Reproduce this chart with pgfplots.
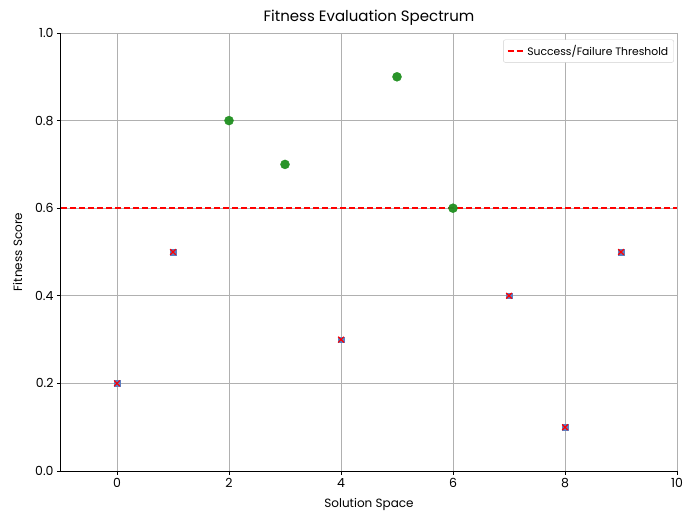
\documentclass[border=0pt]{standalone}
\usepackage{pgfplots}
\pgfplotsset{compat=1.18}
\usepackage{fontspec}
\setmainfont{Poppins}
\definecolor{succ}{HTML}{1F8F1F}
\definecolor{failsq}{HTML}{5B7FC4}
\definecolor{gridc}{HTML}{B0B0B0}
\begin{document}
\begin{tikzpicture}[x=1bp,y=1bp]
\useasboundingbox (-61bp,-54bp) rectangle (639bp,471bp);
\begin{axis}[
  at={(0,0)}, anchor=south west,
  scale only axis,
  width=616bp, height=438bp,
  xmin=-1, xmax=10, ymin=0, ymax=1,
  xtick={0,2,4,6,8,10},
  ytick={0,0.2,0.4,0.6,0.8,1.0},
  yticklabel style={/pgf/number format/.cd,fixed,fixed zerofill,precision=1},
  /pgf/number format/assume math mode=true,
  ticklabel style={font=\fontsize{12.5bp}{14bp}\selectfont},
  tick align=outside,
  tick pos=left,
  major tick length=4bp,
  axis x line*=bottom, axis y line*=left,
  axis line style={black, line width=1bp, -},
  tick style={black, line width=0.8bp},
  grid=major,
  major grid style={gridc, line width=0.9bp},
  title={Fitness Evaluation Spectrum},
  title style={font=\fontsize{15bp}{17bp}\selectfont, yshift=-2bp},
  xlabel={Solution Space},
  ylabel={Fitness Score},
  label style={font=\fontsize{12bp}{14bp}\selectfont},
  xlabel style={yshift=-4bp},
  ylabel style={yshift=6bp},
  legend style={at={(0.995,0.985)}, anchor=north east, font=\fontsize{10.8bp}{13bp}\selectfont, draw=gridc!60, rounded corners=2bp, inner sep=3.5bp},
  legend cell align=left,
  clip=false,
]
\addplot[red, dashed, line width=1.4bp, dash pattern=on 6bp off 3bp] coordinates {(-1,0.6) (10,0.6)};
\addlegendentry{Success/Failure Threshold}
\addplot[only marks, mark=*, mark size=4.5bp, mark options={draw=succ, fill=succ, fill opacity=0.95}, forget plot] coordinates {
(2,0.8) (3,0.7) (5,0.9) (6,0.6)};
\addplot[only marks, mark=square*, mark size=2.8bp, mark options={draw=failsq, fill=failsq}, forget plot] coordinates {
(0,0.2) (1,0.5) (4,0.3) (7,0.4) (8,0.1) (9,0.5)};
\addplot[only marks, mark=x, mark size=4bp, mark options={draw=red, line width=1.2bp}, forget plot] coordinates {
(0,0.2) (1,0.5) (4,0.3) (7,0.4) (8,0.1) (9,0.5)};
\end{axis}
\end{tikzpicture}
\end{document}
